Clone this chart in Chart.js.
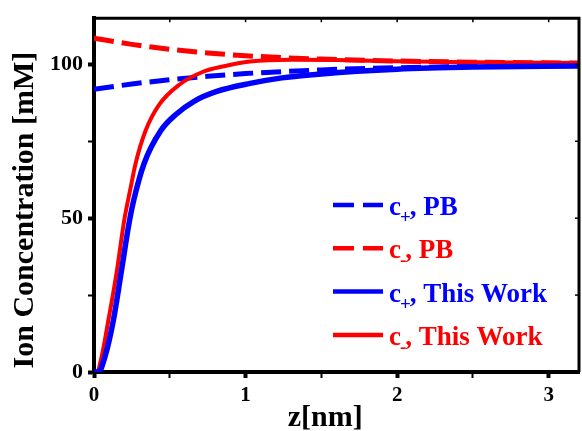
<!DOCTYPE html>
<html>
<head>
<meta charset="utf-8">
<script src="https://cdn.jsdelivr.net/npm/chart.js@4"></script>
<style>
  html, body { margin: 0; padding: 0; background: #fff; }
  #wrap { width: 582px; height: 431px; }
</style>
</head>
<body>
<div id="wrap"><canvas id="chartIon"></canvas></div>
<script>
// z positions [nm] and concentrations [mM]
var zPB = [0, 0.25, 0.5, 0.75, 1.0, 1.5, 2.0, 2.5, 3.2];
var cPlusPB = [91.9, 93.6, 95.0, 96.1, 97.0, 98.2, 98.9, 99.3, 99.7];
var cMinusPB = [108.5, 106.5, 104.9, 103.7, 102.8, 101.7, 101.1, 100.7, 100.4];

var zPlusTW = [0, 0.03, 0.072, 0.127, 0.18, 0.23, 0.263, 0.33, 0.44, 0.54, 0.66, 0.81, 1.03, 1.24, 1.5, 2.0, 2.5, 3.2];
var cPlusTW = [0, 0, 4.9, 16.6, 32.6, 48.0, 56.0, 67.7, 78.4, 83.7, 88.0, 91.2, 93.8, 95.6, 96.9, 98.4, 99.1, 99.5];

var zMinusTW = [0, 0.02, 0.05, 0.094, 0.15, 0.2, 0.24, 0.274, 0.34, 0.43, 0.56, 0.72, 0.85, 1.03, 1.3, 1.6, 2.0, 2.5, 3.2];
var cMinusTW = [0, 0, 4.9, 16.6, 32.6, 49.5, 59.5, 67.7, 78.4, 86.9, 93.3, 97.6, 99.3, 100.9, 101.5, 101.4, 101.0, 100.7, 100.4];

// legend text: [base, subscript, rest]
var legendNames = [
  ['c', '+', ', PB'],
  ['c', '-', ', PB'],
  ['c', '+', ', This Work'],
  ['c', '-', ', This Work']
];

var BLUE = '#0000ff';
var RED = '#ff0000';
var SERIF = '"Liberation Serif", "Times New Roman", serif';
var NB = '\u00a0';

function pts(xs, ys) {
  return xs.map(function (x, i) { return { x: x, y: ys[i] }; });
}

// frame on top/right with small inward ticks, plus the legend
var framePlugin = {
  id: 'frame',
  afterDraw: function (chart) {
    var c = chart.ctx, a = chart.chartArea;
    var xs = chart.scales.x, ys = chart.scales.y;
    c.save();
    c.strokeStyle = '#000';
    c.lineWidth = 3;
    c.beginPath();
    c.moveTo(a.left, a.top);
    c.lineTo(a.right, a.top);
    c.lineTo(a.right, a.bottom);
    c.stroke();
    c.lineWidth = 1.5;
    for (var v = 0.5; v < 3.2; v += 0.5) {
      var px = xs.getPixelForValue(v);
      c.beginPath(); c.moveTo(px, a.top); c.lineTo(px, a.top + 4); c.stroke();
    }
    for (var w = 25; w < 115; w += 25) {
      var py = ys.getPixelForValue(w);
      c.beginPath(); c.moveTo(a.right, py); c.lineTo(a.right - 4, py); c.stroke();
    }

    // legend
    var ds = chart.data.datasets;
    var x0 = 333, y0 = 205, gapY = 43.3;
    for (var i = 0; i < ds.length; i++) {
      var y = y0 + i * gapY;
      c.strokeStyle = ds[i].borderColor;
      c.lineWidth = 4.5;
      c.setLineDash(ds[i].borderDash ? [21, 9] : []);
      c.beginPath(); c.moveTo(x0, y); c.lineTo(x0 + 50, y); c.stroke();
      c.setLineDash([]);
      var n = legendNames[i];
      c.fillStyle = ds[i].borderColor;
      c.textBaseline = 'alphabetic';
      c.font = 'bold 27px ' + SERIF;
      var tx = x0 + 56;
      c.fillText(n[0], tx, y + 10);
      tx += c.measureText(n[0]).width;
      c.font = 'bold 19px ' + SERIF;
      c.fillText(n[1], tx - 1, y + 18);
      tx += c.measureText(n[1]).width - 2;
      c.font = 'bold 27px ' + SERIF;
      c.fillText(n[2], tx, y + 10);
    }
    c.restore();
  }
};

var ctx = document.getElementById('chartIon').getContext('2d');
var chart = new Chart(ctx, {
  type: 'line',
  data: {
    datasets: [{
      label: 'c+, PB',
      data: pts(zPB, cPlusPB),
      borderColor: BLUE,
      borderWidth: 5,
      borderDash: [20, 8],
      order: 2
    }, {
      label: 'c-, PB',
      data: pts(zPB, cMinusPB),
      borderColor: RED,
      borderWidth: 5,
      borderDash: [20, 8],
      order: 3
    }, {
      label: 'c+, This Work',
      data: pts(zPlusTW, cPlusTW),
      borderColor: BLUE,
      borderWidth: 5.5,
      order: 0
    }, {
      label: 'c-, This Work',
      data: pts(zMinusTW, cMinusTW),
      borderColor: RED,
      borderWidth: 4,
      order: 1
    }]
  },
  options: {
    responsive: true,
    maintainAspectRatio: false,
    animation: false,
    layout: { padding: { top: 11, right: 3, left: 0, bottom: 0 } },
    elements: {
      point: { radius: 0 },
      line: { cubicInterpolationMode: 'monotone', fill: false }
    },
    plugins: {
      legend: { display: false },
      tooltip: { enabled: false }
    },
    scales: {
      x: {
        type: 'linear',
        min: 0,
        max: 3.2,
        afterFit: function (s) { s.height = 59; },
        border: { color: '#000', width: 4 },
        grid: {
          drawOnChartArea: false,
          tickLength: 6,
          tickColor: '#000',
          tickWidth: function (c) { return Number.isInteger(c.tick.value) ? 4 : 2; }
        },
        ticks: {
          stepSize: 0.5,
          includeBounds: false,
          maxRotation: 0,
          autoSkip: false,
          padding: 5,
          color: '#000',
          font: { family: SERIF, weight: 'bold', size: 21 },
          callback: function (v) { return Number.isInteger(v) ? String(v) : ''; }
        },
        title: {
          display: true,
          text: 'z[nm]' + NB + NB + NB,
          color: '#000',
          padding: { top: 4, bottom: 4 },
          font: { family: SERIF, weight: 'bold', size: 30, lineHeight: 0.6 }
        }
      },
      y: {
        min: 0,
        max: 115,
        afterFit: function (s) { s.width = 94; },
        border: { color: '#000', width: 4 },
        grid: {
          drawOnChartArea: false,
          tickLength: 6,
          tickColor: '#000',
          tickWidth: function (c) { return c.tick.value % 50 === 0 ? 4 : 2; }
        },
        ticks: {
          stepSize: 25,
          includeBounds: false,
          autoSkip: false,
          padding: 5,
          color: '#000',
          font: { family: SERIF, weight: 'bold', size: 22 },
          callback: function (v) { return v % 50 === 0 ? String(v) : ''; }
        },
        title: {
          display: true,
          text: 'Ion Concentration [mM]' + NB + NB + NB + NB,
          color: '#000',
          padding: { top: 7, bottom: 7 },
          font: { family: SERIF, weight: 'bold', size: 30 }
        }
      }
    }
  },
  plugins: [framePlugin]
});
</script>
</body>
</html>
